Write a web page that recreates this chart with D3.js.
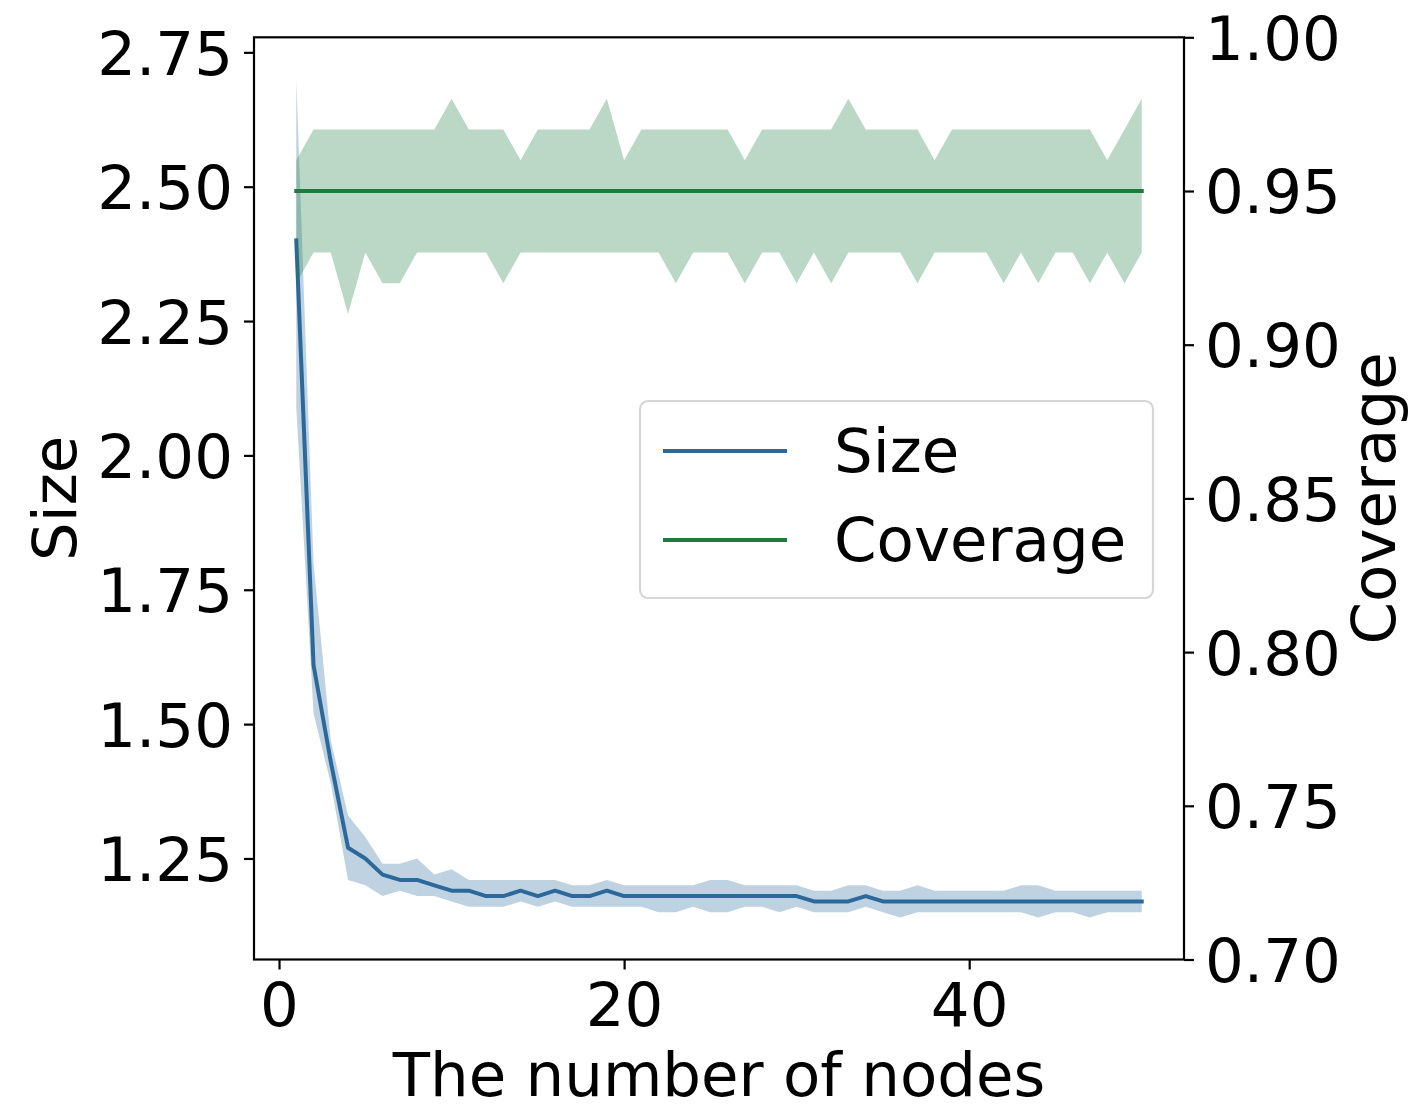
<!DOCTYPE html>
<html>
  <head>
    <title>Size and Coverage</title>
    <meta charset="utf-8">
    <script src="https://d3js.org/d3.v7.min.js"></script>
    <style>
      body { margin: 0; background: #fff; }
      text { font-family: "DejaVu Sans", sans-serif; fill: #000; }
    </style>
  </head>
  <body>
    <div id="chart"></div>

    <script>
    // data, x = 1..50 nodes
    var nodes = d3.range(1, 51);

    var sizeMean = [2.40, 1.61, 1.43, 1.27, 1.25, 1.22, 1.21, 1.21, 1.20, 1.19,
                    1.19, 1.18, 1.18, 1.19, 1.18, 1.19, 1.18, 1.18, 1.19, 1.18,
                    1.18, 1.18, 1.18, 1.18, 1.18, 1.18, 1.18, 1.18, 1.18, 1.18,
                    1.17, 1.17, 1.17, 1.18, 1.17, 1.17, 1.17, 1.17, 1.17, 1.17,
                    1.17, 1.17, 1.17, 1.17, 1.17, 1.17, 1.17, 1.17, 1.17, 1.17];
    var sizeUpper = [2.70, 1.80, 1.47, 1.33, 1.29, 1.24, 1.24, 1.25, 1.22, 1.23,
                     1.21, 1.21, 1.21, 1.21, 1.21, 1.21, 1.20, 1.20, 1.21, 1.20,
                     1.20, 1.20, 1.20, 1.20, 1.21, 1.21, 1.20, 1.20, 1.20, 1.20,
                     1.19, 1.19, 1.20, 1.20, 1.19, 1.19, 1.20, 1.19, 1.19, 1.19,
                     1.19, 1.19, 1.20, 1.20, 1.19, 1.19, 1.19, 1.19, 1.19, 1.19];
    var sizeLower = [2.09, 1.52, 1.39, 1.21, 1.20, 1.18, 1.19, 1.18, 1.18, 1.17,
                     1.16, 1.16, 1.16, 1.17, 1.16, 1.17, 1.16, 1.16, 1.16, 1.16,
                     1.16, 1.15, 1.15, 1.16, 1.15, 1.15, 1.16, 1.16, 1.15, 1.16,
                     1.15, 1.15, 1.15, 1.16, 1.15, 1.14, 1.15, 1.15, 1.15, 1.15,
                     1.15, 1.15, 1.15, 1.14, 1.15, 1.15, 1.14, 1.15, 1.15, 1.15];

    var covMean = nodes.map(function(){ return 0.95; });
    var covUpper = [0.96, 0.97, 0.97, 0.97, 0.97, 0.97, 0.97, 0.97, 0.97, 0.98,
                    0.97, 0.97, 0.97, 0.96, 0.97, 0.97, 0.97, 0.97, 0.98, 0.96,
                    0.97, 0.97, 0.97, 0.97, 0.97, 0.97, 0.96, 0.97, 0.97, 0.97,
                    0.97, 0.97, 0.98, 0.97, 0.97, 0.97, 0.97, 0.96, 0.97, 0.97,
                    0.97, 0.97, 0.97, 0.97, 0.97, 0.97, 0.97, 0.96, 0.97, 0.98];
    var covLower = [0.92, 0.93, 0.93, 0.91, 0.93, 0.92, 0.92, 0.93, 0.93, 0.93,
                    0.93, 0.93, 0.92, 0.93, 0.93, 0.93, 0.93, 0.93, 0.93, 0.93,
                    0.93, 0.93, 0.92, 0.93, 0.93, 0.93, 0.92, 0.93, 0.93, 0.92,
                    0.93, 0.92, 0.93, 0.93, 0.93, 0.93, 0.92, 0.93, 0.93, 0.93,
                    0.93, 0.92, 0.93, 0.92, 0.93, 0.93, 0.92, 0.93, 0.92, 0.93];

    var xTicks = [0, 20, 40];
    var sizeTicks = [1.25, 1.50, 1.75, 2.00, 2.25, 2.50, 2.75];
    var covTicks = [0.70, 0.75, 0.80, 0.85, 0.90, 0.95, 1.00];

    var sizeColor = "#2c699a";
    var covColor = "#1f7a3e";

    var W = 1410, H = 1105;
    var padL = 254, padR = 1184, padT = 37.3, padB = 959.5;
    var fs = 61;

    // matplotlib style 5% margins
    function pad(lo, hi){ var m = (hi - lo) * 0.05; return [lo - m, hi + m]; }

    var x = d3.scaleLinear().domain(pad(1, 50)).range([padL, padR]);
    var ySize = d3.scaleLinear()
      .domain(pad(d3.min(sizeLower), d3.max(sizeUpper)))
      .range([padB, padT]);
    var yCov = d3.scaleLinear().domain([0.70, 1.00]).range([padB, padT]);

    var svg = d3.select("#chart").append("svg")
      .attr("width", W)
      .attr("height", H);

    svg.append("rect").attr("width", W).attr("height", H).attr("fill", "#fff");

    var plot = svg.append("g");

    function band(lo, hi, y){
      return d3.area()
        .x(function(d, i){ return x(nodes[i]); })
        .y0(function(d, i){ return y(lo[i]); })
        .y1(function(d, i){ return y(hi[i]); })(nodes);
    }
    function line(vals, y){
      return d3.line()
        .x(function(d, i){ return x(nodes[i]); })
        .y(function(d, i){ return y(vals[i]); })(nodes);
    }

    plot.append("path")
      .attr("d", band(sizeLower, sizeUpper, ySize))
      .attr("fill", sizeColor)
      .attr("fill-opacity", 0.3);
    plot.append("path")
      .attr("d", line(sizeMean, ySize))
      .attr("fill", "none")
      .attr("stroke", sizeColor)
      .attr("stroke-width", 4)
      .attr("stroke-linejoin", "round")
      .attr("stroke-linecap", "square");

    plot.append("path")
      .attr("d", band(covLower, covUpper, yCov))
      .attr("fill", covColor)
      .attr("fill-opacity", 0.3);
    plot.append("path")
      .attr("d", line(covMean, yCov))
      .attr("fill", "none")
      .attr("stroke", covColor)
      .attr("stroke-width", 4)
      .attr("stroke-linejoin", "round")
      .attr("stroke-linecap", "square");

    // axes
    var xAxis = d3.axisBottom(x).tickValues(xTicks).tickSize(10).tickPadding(12)
      .tickFormat(d3.format("d"));
    var gx = svg.append("g").attr("transform", "translate(0," + padB + ")").call(xAxis);

    var yAxisL = d3.axisLeft(ySize).tickValues(sizeTicks).tickSize(10).tickPadding(11)
      .tickFormat(d3.format(".2f"));
    var gl = svg.append("g").attr("transform", "translate(" + padL + ",0)").call(yAxisL);

    var yAxisR = d3.axisRight(yCov).tickValues(covTicks).tickSize(10).tickPadding(11)
      .tickFormat(d3.format(".2f"));
    var gr = svg.append("g").attr("transform", "translate(" + padR + ",0)").call(yAxisR);

    [gx, gl, gr].forEach(function(g){
      g.select(".domain").remove();
      g.selectAll(".tick line").attr("stroke", "#000").attr("stroke-width", 2.2);
      g.selectAll(".tick text")
        .attr("font-size", fs)
        .attr("font-family", "DejaVu Sans")
        .attr("fill", "#000");
    });
    gl.selectAll(".tick text").attr("dy", "0.36em");
    gr.selectAll(".tick text").attr("dy", "0.36em");
    gx.selectAll(".tick text").attr("dy", "0.73em");

    // frame
    svg.append("rect")
      .attr("x", padL).attr("y", padT)
      .attr("width", padR - padL).attr("height", padB - padT)
      .attr("fill", "none")
      .attr("stroke", "#000")
      .attr("stroke-width", 2.2);

    // axis labels
    svg.append("text")
      .attr("x", (padL + padR) / 2).attr("y", 1096)
      .attr("text-anchor", "middle")
      .attr("font-size", fs)
      .text("The number of nodes");

    svg.append("text")
      .attr("transform", "translate(76," + ((padT + padB) / 2) + ") rotate(-90)")
      .attr("text-anchor", "middle")
      .attr("font-size", fs)
      .text("Size");

    svg.append("text")
      .attr("transform", "translate(1395," + ((padT + padB) / 2) + ") rotate(-90)")
      .attr("text-anchor", "middle")
      .attr("font-size", fs)
      .text("Coverage");

    // legend
    var leg = svg.append("g");
    leg.append("rect")
      .attr("x", 640).attr("y", 401)
      .attr("width", 513).attr("height", 197)
      .attr("rx", 8).attr("ry", 8)
      .attr("fill", "#fff").attr("fill-opacity", 0.8)
      .attr("stroke", "#d6d6d6").attr("stroke-width", 2.2);

    var items = [{name: "Size", color: sizeColor, y: 451},
                 {name: "Coverage", color: covColor, y: 540}];
    items.forEach(function(d){
      leg.append("line")
        .attr("x1", 663).attr("x2", 787)
        .attr("y1", d.y).attr("y2", d.y)
        .attr("stroke", d.color)
        .attr("stroke-width", 4);
      leg.append("text")
        .attr("x", 834).attr("y", d.y + 21)
        .attr("font-size", fs)
        .text(d.name);
    });
    </script>
  </body>
</html>
